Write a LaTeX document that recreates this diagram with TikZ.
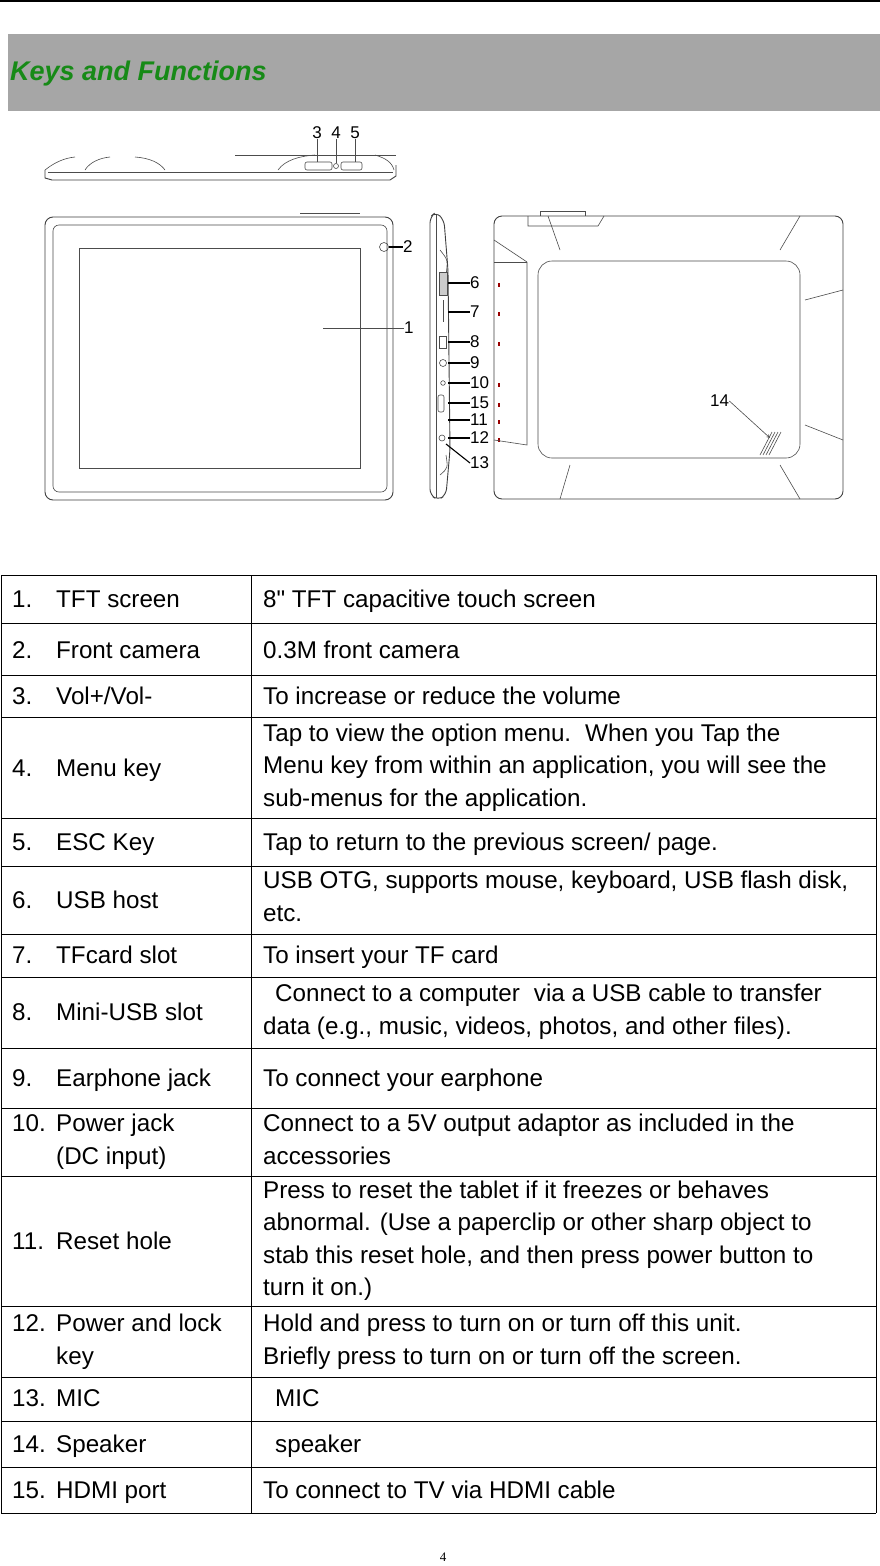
\documentclass[tikz,border=0pt]{standalone}
\usepackage{fontspec}
\setmainfont{Liberation Sans}[Ligatures=TeXOff]
\newfontfamily\serifpg{Liberation Serif}
\definecolor{hdr}{HTML}{A6A6A6}
\definecolor{ttl}{HTML}{178A17}
\begin{document}
\begin{tikzpicture}[x=1pt,y=-1pt,
  cell/.style={anchor=west,inner sep=0pt,align=left,font=\fontsize{24.2}{32.4}\selectfont,execute at begin node=\strut,execute at end node=\strut},
  num/.style={inner sep=0pt,font=\fontsize{17}{17}\selectfont},
  dev/.style={draw=black!75,line width=0.9pt},
  thin/.style={draw=black!70,line width=0.6pt},
  tline/.style={draw=black,line width=0.8pt}]
\useasboundingbox (0,0) rectangle (880,1566);
\fill[white] (0,0) rectangle (880,1566);
\draw[line width=1.2pt] (0,1) -- (880,1);
\fill[hdr] (8,34) rectangle (880,111);
\node[anchor=west,inner sep=0pt,text=ttl,font=\fontsize{27}{27}\selectfont\bfseries\itshape] (title) at (10,74) {Keys and Functions};
% ---- top view
\draw[dev] (45,170) -- (45,178) -- (52,180) -- (390,180) -- (396,176) -- (396,165);
\draw[thin] (45,170) .. controls (55,162) and (65,158) .. (75,157);
\draw[thin] (85,170) .. controls (90,162) and (100,158) .. (110,157);
\draw[thin] (135,157) .. controls (150,158) and (160,163) .. (165,170);
\draw[thin] (48,172) -- (393,172);
\draw[thin] (235,155) -- (396,155);
\draw[thin] (278,170) .. controls (285,160) and (300,156) .. (315,155);
\draw[thin] (375,155) .. controls (385,158) and (392,162) .. (394,170);
\draw[thin,rounded corners=2pt] (305,162) rectangle (332,170);
\draw[thin] (336,166) circle (2.5);
\draw[thin,rounded corners=2pt] (341,162) rectangle (362,170);
\node[num] (l3) at (317,133) {3};
\node[num] (l4) at (336,133) {4};
\node[num] (l5) at (355,133) {5};
\coordinate (p3) at (317,162); \coordinate (p4) at (336,163); \coordinate (p5) at (355,162);
\draw[thin] (l3) -- (p3); \draw[thin] (l4) -- (p4); \draw[thin] (l5) -- (p5);
% ---- front view
\draw[dev,rounded corners=8pt] (45,217) rectangle (393,500);
\draw[thin,rounded corners=6pt] (53,225) rectangle (387,492);
\draw[thin] (79,248) rectangle (360,468);
\draw[thin] (300,213) -- (360,213);
\draw[thin] (384,247) circle (4.5);
\node[num,anchor=west] (l2) at (403,247) {2};
\draw[line width=1.1pt] (389,247) -- (l2.west);
\node[num,anchor=west] (l1) at (404,328) {1};
\coordinate (s1) at (323,328);
\draw[thin] (s1) -- (l1.west);
% ---- side view
\draw[dev,rounded corners=6pt] (430,217) -- (436,212) -- (444,220) -- (448,270) -- (450,450) -- (446,495) -- (438,500) -- (430,495) -- cycle;
\draw[thin] (436,215) -- (436,498);
\draw[thin] (440,250) .. controls (448,260) .. (446,275);
\draw[thin] (440,475) .. controls (448,468) .. (446,455);
\draw[thin,fill=black!20] (439,272) rectangle (447,295);
\draw[thin] (443,300) -- (443,322);
\draw[thin] (439,336) rectangle (446,348);
\draw[thin] (443,363) circle (3.5);
\draw[thin] (443,383) circle (2.3);
\draw[thin,rounded corners=2pt] (438,395) rectangle (444,412);
\draw[thin] (442,438) circle (3);
\foreach \n/\y in {6/283,7/312,8/342,9/363,10/383,15/403,11/420,12/438}{
  \node[num,anchor=west] (l\n) at (470,\y) {\n};
  \draw[line width=1.3pt] (448,\y) -- (l\n.west);
}
\node[num,anchor=west] (l13) at (470,463) {13};
\coordinate (m13) at (446,444);
\draw[line width=1.1pt] (m13) -- (l13.west);
\foreach \y in {283,312,342,383,403,420,438}{\fill[red!60!black] (498,\y) rectangle (499.5,\y+4);}
% ---- back view
\draw[dev,rounded corners=8pt] (494,216) rectangle (843,499);
\draw[thin,rounded corners=14pt] (538,261) rectangle (800,458);
\draw[thin] (528,216) -- (528,226) -- (598,226) -- (604,216);
\draw[thin] (540,216) -- (540,211) -- (585,211) -- (585,216);
\draw[thin] (494,240) -- (527,262); \draw[thin] (494,440) -- (527,445) -- (527,262);
\draw[thin] (494,262) -- (527,262);
\draw[thin] (548,216) -- (560,250); \draw[thin] (800,216) -- (780,250);
\draw[thin] (843,290) -- (805,300); \draw[thin] (843,440) -- (805,425);
\draw[thin] (800,499) -- (780,465); \draw[thin] (560,499) -- (570,465);
\foreach \i in {0,3,6,9}{\draw[thin] (760+\i,455) -- (772+\i,432);}
\node[num,anchor=south west] (l14) at (710,407) {14};
\coordinate (sp) at (770,438);
\draw[thin,-stealth] (l14.east) -- (sp);
% ---- table
\foreach \y in {575,623,675,717,818,866,934,977,1048,1108,1176,1306,1377,1421,1467,1513}{\draw[tline] (1,\y) -- (876,\y);}
\draw[tline] (1,575) -- (1,1513);
\draw[tline] (251,575) -- (251,1513);
\draw[tline] (876,575) -- (876,1513);
\newcommand{\kn}[1]{\makebox[44pt][l]{#1}}
\begin{scope}[yshift=-2pt]
\node[cell] (k1) at (12,599) {\kn{1.}TFT screen};
\node[cell] (k2) at (12,650) {\kn{2.}Front camera};
\node[cell] (k3) at (12,696) {\kn{3.}Vol+/Vol-};
\node[cell] (k4) at (12,768) {\kn{4.}Menu key};
\node[cell] (k5) at (12,842) {\kn{5.}ESC Key};
\node[cell] (k6) at (12,900) {\kn{6.}USB host};
\node[cell] (k7) at (12,955) {\kn{7.}TFcard slot};
\node[cell] (k8) at (12,1012) {\kn{8.}Mini-USB slot};
\node[cell] (k9) at (12,1078) {\kn{9.}Earphone jack};
\node[cell] (k10) at (12,1142) {\kn{10.}Power jack\\\hspace*{44pt}(DC input)};
\node[cell] (k11) at (12,1241) {\kn{11.}Reset hole};
\node[cell] (k12) at (12,1342) {\kn{12.}Power and lock\\\hspace*{44pt}key};
\node[cell] (k13) at (12,1398) {\kn{13.}MIC};
\node[cell] (k14) at (12,1444) {\kn{14.}Speaker};
\node[cell] (k15) at (12,1490) {\kn{15.}HDMI port};
\node[cell] (d1) at (263,599) {8" TFT capacitive touch screen};
\node[cell] (d2) at (263,650) {0.3M front camera};
\node[cell] (d3) at (263,696) {To increase or reduce the volume};
\node[cell] (d4) at (263,768) {Tap to view the option menu.\hspace{14pt}When you Tap the\\Menu key from within an application, you will see the\\sub-menus for the application.};
\node[cell] (d5) at (263,842) {Tap to return to the previous screen/ page.};
\node[cell] (d6) at (263,899) {USB OTG, supports mouse, keyboard, USB flash disk,\\etc.};
\node[cell] (d7) at (263,955) {To insert your TF card};
\node[cell] (d8) at (263,1012) {\hspace*{12pt}Connect to a computer\hspace{14pt}via a USB cable to transfer\\data (e.g., music, videos, photos, and other files).};
\node[cell] (d9) at (263,1078) {To connect your earphone};
\node[cell] (d10) at (263,1142) {Connect to a 5V output adaptor as included in the\\accessories};
\node[cell] (d11) at (263,1241) {Press to reset the tablet if it freezes or behaves\\abnormal. (Use a paperclip or other sharp object to\\stab this reset hole, and then press power button to\\turn it on.)};
\node[cell] (d12) at (263,1342) {Hold and press to turn on or turn off this unit.\\Briefly press to turn on or turn off the screen.};
\node[cell] (d13) at (263,1398) {\hspace*{12pt}MIC};
\node[cell] (d14) at (263,1444) {\hspace*{12pt}speaker};
\node[cell] (d15) at (263,1490) {To connect to TV via HDMI cable};
\end{scope}
\node[inner sep=0pt,font=\serifpg\fontsize{13}{13}\selectfont] (pg) at (443,1557) {4};
\end{tikzpicture}
\end{document}
